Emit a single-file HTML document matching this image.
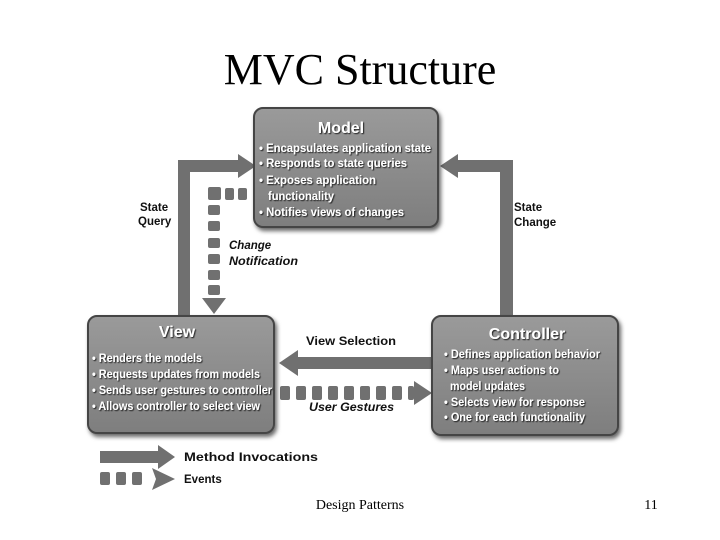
<!DOCTYPE html>
<html><head><meta charset="utf-8"><style>
html,body{margin:0;padding:0;background:#fff;width:720px;height:540px;overflow:hidden}
svg{display:block}
.t{font-family:"Liberation Sans",sans-serif;fill:#fff;font-size:12px;font-weight:bold}
.h{font-family:"Liberation Sans",sans-serif;fill:#fff;font-size:16px;font-weight:bold}
.l{font-family:"Liberation Sans",sans-serif;fill:#111;font-size:11.5px;font-weight:bold}
</style></head><body>
<svg width="720" height="540" viewBox="0 0 720 540">
<defs>
<linearGradient id="g" x1="0" y1="0" x2="0" y2="1"><stop offset="0" stop-color="#9a9a9a"/><stop offset="1" stop-color="#7e7e7e"/></linearGradient>
<filter id="s" x="-10%" y="-10%" width="130%" height="130%"><feDropShadow dx="2" dy="3" stdDeviation="2" flood-color="#000" flood-opacity="0.6"/></filter>
<filter id="ts"><feDropShadow dx="1" dy="1" stdDeviation="0.5" flood-color="#000" flood-opacity="0.8"/></filter>
</defs>
<text x="360" y="84" text-anchor="middle" font-family="Liberation Serif,serif" font-size="44" fill="#000">MVC Structure</text>

<!-- State query arrow -->
<g fill="#707070">
<rect x="178" y="160" width="12" height="158"/>
<rect x="178" y="160" width="62" height="12"/>
<polygon points="238,154 256,166 238,178"/>
<!-- state change -->
<rect x="500" y="160" width="13" height="158"/>
<rect x="455" y="160" width="58" height="12"/>
<polygon points="458,154 440,166 458,178"/>
<!-- view selection -->
<rect x="296" y="357" width="138" height="12"/>
<polygon points="298,350 279,363 298,376"/>
<!-- events: change notification -->
<rect x="208" y="187" width="13" height="13" rx="2"/>
<rect x="225" y="188" width="9" height="12" rx="2"/>
<rect x="238" y="188" width="9" height="12" rx="2"/>
<rect x="208" y="205" width="12" height="10" rx="2"/>
<rect x="208" y="221" width="12" height="10" rx="2"/>
<rect x="208" y="238" width="12" height="10" rx="2"/>
<rect x="208" y="254" width="12" height="10" rx="2"/>
<rect x="208" y="270" width="12" height="10" rx="2"/>
<rect x="208" y="285" width="12" height="10" rx="2"/>
<polygon points="202,298 226,298 214,314"/>
<!-- user gestures -->
<rect x="280" y="386" width="10" height="14" rx="2"/>
<rect x="296" y="386" width="10" height="14" rx="2"/>
<rect x="312" y="386" width="10" height="14" rx="2"/>
<rect x="328" y="386" width="10" height="14" rx="2"/>
<rect x="344" y="386" width="10" height="14" rx="2"/>
<rect x="360" y="386" width="10" height="14" rx="2"/>
<rect x="376" y="386" width="10" height="14" rx="2"/>
<rect x="392" y="386" width="10" height="14" rx="2"/>
<rect x="408" y="386" width="6" height="14" rx="2"/>
<polygon points="414,381 432,393 414,405"/>
<!-- legend -->
<rect x="100" y="451" width="60" height="12"/>
<polygon points="158,445 175,457 158,469"/>
<rect x="100" y="472" width="10" height="13" rx="2"/>
<rect x="116" y="472" width="10" height="13" rx="2"/>
<rect x="132" y="472" width="10" height="13" rx="2"/>
<polygon points="152,468 175,479 152,490 156,479"/>
</g>

<!-- boxes -->
<rect x="254" y="108" width="184" height="119" rx="9" fill="url(#g)" stroke="#444" stroke-width="2" filter="url(#s)"/>
<rect x="88" y="316" width="186" height="117" rx="9" fill="url(#g)" stroke="#444" stroke-width="2" filter="url(#s)"/>
<rect x="432" y="316" width="186" height="119" rx="9" fill="url(#g)" stroke="#444" stroke-width="2" filter="url(#s)"/>

<g filter="url(#ts)">
<text class="h" x="341" y="133" text-anchor="middle">Model</text>
<text class="t" x="259" y="152" textLength="172" lengthAdjust="spacingAndGlyphs">• Encapsulates application state</text>
<text class="t" x="259" y="167" textLength="148" lengthAdjust="spacingAndGlyphs">• Responds to state queries</text>
<text class="t" x="259" y="184" textLength="117" lengthAdjust="spacingAndGlyphs">• Exposes application</text>
<text class="t" x="268" y="200" textLength="66" lengthAdjust="spacingAndGlyphs">functionality</text>
<text class="t" x="259" y="216" textLength="145" lengthAdjust="spacingAndGlyphs">• Notifies views of changes</text>

<text class="h" x="177" y="337" text-anchor="middle">View</text>
<text class="t" x="92" y="362" textLength="110" lengthAdjust="spacingAndGlyphs">• Renders the models</text>
<text class="t" x="92" y="378" textLength="168" lengthAdjust="spacingAndGlyphs">• Requests updates from models</text>
<text class="t" x="92" y="394" textLength="180" lengthAdjust="spacingAndGlyphs">• Sends user gestures to controller</text>
<text class="t" x="92" y="410" textLength="168" lengthAdjust="spacingAndGlyphs">• Allows controller to select view</text>

<text class="h" x="527" y="339" text-anchor="middle">Controller</text>
<text class="t" x="444" y="358" textLength="156" lengthAdjust="spacingAndGlyphs">• Defines application behavior</text>
<text class="t" x="444" y="374" textLength="115" lengthAdjust="spacingAndGlyphs">• Maps user actions to</text>
<text class="t" x="450" y="390" textLength="75" lengthAdjust="spacingAndGlyphs">model updates</text>
<text class="t" x="444" y="406" textLength="141" lengthAdjust="spacingAndGlyphs">• Selects view for response</text>
<text class="t" x="444" y="421" textLength="141" lengthAdjust="spacingAndGlyphs">• One for each functionality</text>
</g>

<text class="l" x="140" y="211">State</text>
<text class="l" x="138" y="225">Query</text>
<text class="l" x="514" y="211">State</text>
<text class="l" x="514" y="226">Change</text>
<text class="l" x="229" y="249" font-style="italic">Change</text>
<text class="l" x="229" y="265" font-style="italic" textLength="69" lengthAdjust="spacingAndGlyphs">Notification</text>
<text class="l" x="306" y="345" textLength="90" lengthAdjust="spacingAndGlyphs">View Selection</text>
<text class="l" x="309" y="411" font-style="italic" textLength="85" lengthAdjust="spacingAndGlyphs">User Gestures</text>
<text class="l" x="184" y="461" font-size="13" textLength="134" lengthAdjust="spacingAndGlyphs">Method Invocations</text>
<text class="l" x="184" y="483" font-size="13">Events</text>

<text x="360" y="509" text-anchor="middle" font-family="Liberation Serif,serif" font-size="14" fill="#000">Design Patterns</text>
<text x="651" y="509" text-anchor="middle" font-family="Liberation Serif,serif" font-size="14" fill="#000">11</text>
</svg>
</body></html>
